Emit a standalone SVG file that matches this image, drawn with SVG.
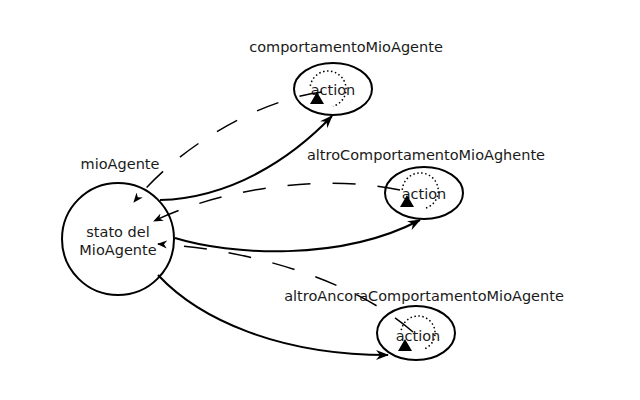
<svg xmlns="http://www.w3.org/2000/svg" width="640" height="400" viewBox="0 0 640 400">
<defs>
<style>
.node{fill:#fff;stroke:#000;stroke-width:2}
.lbl{font-family:"DejaVu Sans",Verdana,sans-serif;font-size:14.5px;fill:#1a1a1a;text-anchor:middle}
.loop{fill:none;stroke:#000;stroke-width:1.5;stroke-dasharray:1.5 2.5}
.solid{fill:none;stroke:#000;stroke-width:2}
.dash{fill:none;stroke:#000;stroke-width:1.5;stroke-dasharray:23 22}
.head{fill:#000}
</style>
<marker id="arr" viewBox="0 0 14 10" refX="12" refY="5" markerWidth="14" markerHeight="10" markerUnits="userSpaceOnUse" orient="auto">
<path d="M0,0 L13,5 L0,10 L4,5 Z" fill="#000"/>
</marker>
<marker id="arrs" viewBox="0 0 10 8" refX="9" refY="4" markerWidth="10" markerHeight="8" markerUnits="userSpaceOnUse" orient="auto">
<path d="M0,0 L10,4 L0,8 L3,4 Z" fill="#000"/>
</marker>
</defs>
<rect width="640" height="400" fill="#fff"/>

<g id="mioAgente">
<circle class="node" cx="118" cy="239" r="56"/>
<text class="lbl" x="118" y="237">stato del</text>
<text class="lbl" x="118" y="255">MioAgente</text>
<text class="lbl" x="120" y="169">mioAgente</text>
</g>

<g id="comportamentoMioAgente">
<ellipse class="node" cx="333" cy="89" rx="39" ry="26"/>
<path class="loop" d="M310.3,85.9 A18,18 0 1 1 333,106.3"/>
<text class="lbl" x="333" y="95">action</text>
<path class="head" d="M317,92 L324,104 L310,104 Z"/>
<text class="lbl" x="346" y="52">comportamentoMioAgente</text>
</g>

<g id="altroComportamentoMioAghente">
<ellipse class="node" cx="424" cy="193" rx="39" ry="26"/>
<path class="loop" d="M402.3,189.9 A18,18 0 1 1 425,208.3"/>
<text class="lbl" x="424" y="199">action</text>
<path class="head" d="M407,195 L414,207 L400,207 Z"/>
<text class="lbl" x="426" y="160">altroComportamentoMioAghente</text>
</g>

<g id="altroAncoraComportamentoMioAgente">
<ellipse class="node" cx="416" cy="333" rx="39" ry="27"/>
<path class="loop" d="M401.3,330.2 A17,17 0 1 1 423,349.3"/>
<text class="lbl" x="418" y="341">action</text>
<path class="head" d="M405,339 L412,351 L398,351 Z"/>
<text class="lbl" x="424" y="301">altroAncoraComportamentoMioAgente</text>
</g>

<g id="connectors">
<path class="solid" marker-end="url(#arr)" d="M160,200 C230,198 290,160 332,116"/>
<path class="solid" marker-end="url(#arr)" d="M175,238 C230,255 340,262 420,220"/>
<path class="solid" marker-end="url(#arr)" d="M158,275 C200,320 280,355 388,355"/>
<path class="dash" marker-end="url(#arrs)" d="M322,92 C260,100 180,145 134,202"/>
<path class="dash" marker-end="url(#arrs)" d="M400,190 C330,175 230,185 154,221"/>
<path class="dash" marker-end="url(#arrs)" d="M413,332 C360,285 260,250 158,244"/>
</g>
</svg>
